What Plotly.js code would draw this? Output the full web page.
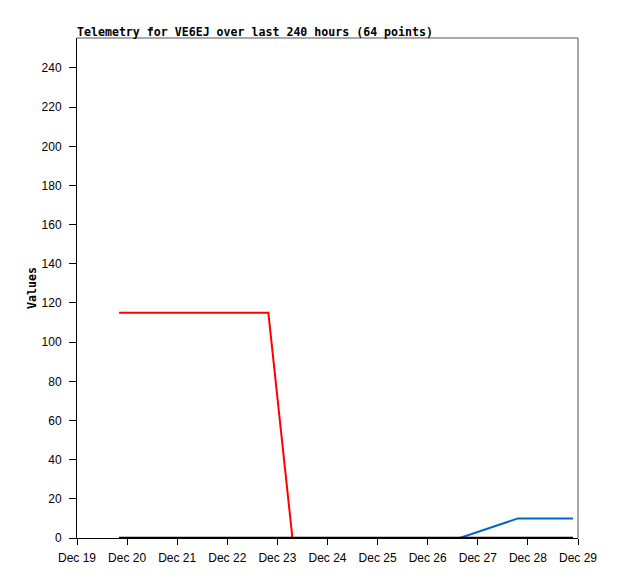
<!DOCTYPE html>
<html><head><meta charset="utf-8">
<script src="https://cdn.plot.ly/plotly-3.0.1.min.js"></script>
<style>html,body{margin:0;padding:0;background:#fff}</style>
</head><body><div id="chart" style="width:618px;height:579px"></div>
<script>
const redTimes = ['2023-12-19 20:10', '2023-12-22 19:40', '2023-12-23 07:12', '2023-12-28 21:36'];
const redValues = [115, 115, 0, 0];
const blueTimes = ['2023-12-19 20:10', '2023-12-26 15:22', '2023-12-27 19:12', '2023-12-28 21:36'];
const blueValues = [0, 0, 10, 10];
const blackTimes = ['2023-12-19 20:10', '2023-12-28 21:36'];
const blackValues = [0, 0];
const xRange = ['2023-12-19 00:00', '2023-12-29 00:00'];
const yRange = [0, 255.3];
const titleText = 'Telemetry for VE6EJ over last 240 hours (64 points)';
const yTitle = 'Values';

const traces = [
  {x: redTimes, y: redValues, mode: 'lines', line: {color: '#ff0000', width: 2}, hoverinfo: 'skip'},
  {x: blueTimes, y: blueValues, mode: 'lines', line: {color: '#0066cc', width: 2}, hoverinfo: 'skip'},
  {x: blackTimes, y: blackValues, mode: 'lines', line: {color: '#000000', width: 2.5}, hoverinfo: 'skip'}
];
const layout = {
  width: 618, height: 579,
  margin: {l: 77, r: 40, t: 38, b: 41},
  paper_bgcolor: '#fff', plot_bgcolor: '#fff',
  showlegend: false,
  title: {text: titleText, x: 77/618, xanchor: 'left', xref: 'container', y: 1 - 31.5/579, yanchor: 'middle',
          font: {family: 'DejaVu Sans Mono', size: 11.6, color: '#000', weight: 'bold'}},
  xaxis: {type: 'date', range: xRange, tickformat: '%b %d', dtick: 86400000, tick0: '2023-12-19',
          showgrid: false, zeroline: false, showline: true, linecolor: '#000', linewidth: 1,
          ticks: 'outside', ticklen: 6, tickcolor: '#000', tickwidth: 1, ticklabelstandoff: 3,
          tickfont: {family: 'Liberation Sans', size: 12, color: '#000'}},
  yaxis: {range: yRange, tickvals: [0,20,40,60,80,100,120,140,160,180,200,220,240],
          showgrid: false, zeroline: false, showline: true, linecolor: '#000', linewidth: 1,
          ticks: 'outside', ticklen: 7, tickcolor: '#000', tickwidth: 1, ticklabelstandoff: 5,
          tickfont: {family: 'Liberation Sans', size: 12, color: '#000'},
          title: {text: yTitle, standoff: 2, font: {family: 'DejaVu Sans Mono', size: 11.6, color: '#000', weight: 'bold'}}},
  shapes: [
    {type: 'line', xref: 'paper', yref: 'paper', x0: 0, x1: 1, y0: 1, y1: 1, line: {color: '#555', width: 1}},
    {type: 'line', xref: 'paper', yref: 'paper', x0: 1, x1: 1, y0: 0, y1: 1, line: {color: '#555', width: 1}}
  ]
};
Plotly.newPlot('chart', traces, layout, {staticPlot: true, displayModeBar: false});
</script></body></html>
